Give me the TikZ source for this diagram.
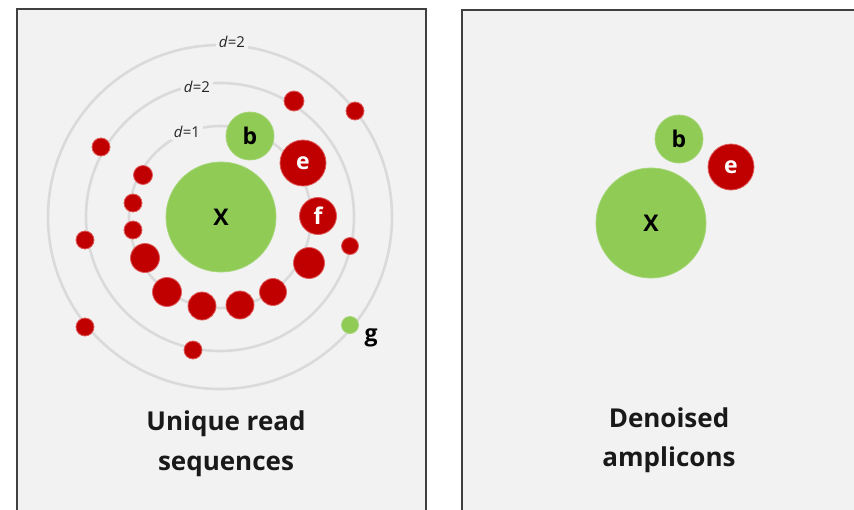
\documentclass[tikz,border=0pt]{standalone}
\usepackage{fontspec}
\setmainfont{Open Sans}
\definecolor{panelbg}{HTML}{F2F2F2}
\definecolor{ringcol}{HTML}{DADADA}
\definecolor{okgreen}{HTML}{8FCB55}
\definecolor{errred}{HTML}{C00000}
\definecolor{halo}{HTML}{E05A5A}
\definecolor{framecol}{HTML}{404040}
\tikzset{
  panel/.style={fill=panelbg, draw=framecol, line width=1.2pt},
  ring/.style={draw=ringcol, line width=2.6pt},
  ringlabel/.style={fill=panelbg, inner sep=2.5pt, font=\fontsize{15}{17}\selectfont, text=black!85},
  reddot/.style={circle, inner sep=0pt, minimum size=#1, fill=errred, draw=halo, line width=0.8pt},
  greendot/.style={circle, inner sep=0pt, minimum size=#1, fill=okgreen, draw=okgreen!80!white, line width=0.8pt},
  lbl/.style={font=\fontsize{23}{25}\selectfont\bfseries},
  title/.style={font=\fontsize{26}{30}\selectfont\bfseries, text=black!90, anchor=base}
}
\begin{document}
\begin{tikzpicture}[x=1pt,y=-1pt]
\useasboundingbox (0,0) rectangle (854,509);
\fill[white] (0,0) rectangle (854,509);
% panels
\fill[panelbg] (17,9) rectangle (426,515);
\draw[framecol, line width=1.2pt] (17,515) -- (17,9) -- (426,9) -- (426,515);
\fill[panelbg] (462,10) rectangle (860,515);
\draw[framecol, line width=1.2pt] (462,515) -- (462,10) -- (860,10);
% rings
\coordinate (c) at (220,217);
\draw[ring] (c) circle (172);
\draw[ring] (c) circle (134);
\draw[ring] (c) circle (91);
\node[ringlabel] (l1) at (232,42) {\textit{d}=2};
\node[ringlabel] (l2) at (197,87) {\textit{d}=2};
\node[ringlabel] (l3) at (187,132) {\textit{d}=1};
% left centre
\node[greendot=110, lbl] (X) at (221,217) {X};
\node[greendot=48, lbl] (b) at (250,136) {b};
\node[reddot=46, lbl, text=white] (e) at (303,163) {e};
\node[reddot=37, lbl, text=white] (f) at (318,216) {f};
% large red dots on inner ring
\node[reddot=29] (r1) at (145,258) {};
\node[reddot=29] (r2) at (167,292) {};
\node[reddot=28] (r3) at (202,306) {};
\node[reddot=28] (r4) at (240,305) {};
\node[reddot=27] (r5) at (273,292) {};
\node[reddot=31] (r6) at (309,263) {};
% small red dots on inner ring
\node[reddot=19] (s1) at (143,175) {};
\node[reddot=18] (s2) at (133,203) {};
\node[reddot=18] (s3) at (133,230) {};
% small red dots on outer rings
\node[reddot=18] (o1) at (101,147) {};
\node[reddot=18] (o2) at (85,240) {};
\node[reddot=18] (o3) at (85,327) {};
\node[reddot=18] (o4) at (193,350) {};
\node[reddot=20] (o5) at (294,101) {};
\node[reddot=18] (o6) at (355,111) {};
\node[reddot=17] (o7) at (350,246) {};
\node[greendot=17] (g) at (350,325) {};
\node[lbl] (glbl) at (371,338) {g};
% left title
\node[title] (t1) at (226,430) {Unique read};
\node[title] (t2) at (226,470) {sequences};
% right panel
\node[greendot=110, lbl] (X2) at (651,223) {X};
\node[greendot=48, lbl] (b2) at (679,139) {b};
\node[reddot=46, lbl, text=white] (e2) at (731,167) {e};
\node[title] (t3) at (669,427) {Denoised};
\node[title] (t4) at (669,466) {amplicons};
\end{tikzpicture}
\end{document}
